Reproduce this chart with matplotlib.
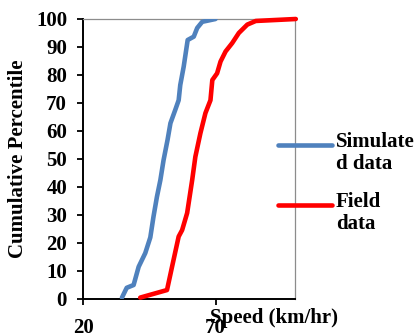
import matplotlib.pyplot as plt
from matplotlib.lines import Line2D

# simulated data (speed km/hr, cumulative percentile)
sim_speed = [34.7, 36.5, 39.1, 41.0, 43.5, 45.4, 46.6, 47.9, 49.2, 50.4, 51.9, 53.0,
             54.8, 56.1, 56.7, 58.0, 59.5, 61.8, 63.1, 65.0, 70.0]
sim_pct = [0.5, 4.0, 5.0, 11.5, 16.4, 22.0, 29.4, 36.5, 42.5, 49.6, 56.8, 62.8,
           67.5, 71.0, 76.4, 83.0, 92.5, 93.7, 96.8, 99.0, 100.0]

# field data
field_speed = [41.6, 51.7, 53.6, 56.1, 57.4, 59.3, 61.2, 62.4, 64.3, 66.2, 68.1, 68.8,
               70.6, 71.9, 73.8, 76.3, 78.8, 82.0, 85.2, 100.3]
field_pct = [0.5, 3.2, 11.5, 22.3, 24.6, 30.7, 42.5, 50.8, 59.2, 66.4, 71.0, 78.2,
             80.6, 84.8, 88.4, 91.4, 95.0, 98.0, 99.3, 100.0]

labels = ["Simulate\nd data", "Field\ndata"]
colors = ["#4F81BD", "#FF0000"]
xticks = [20, 70]
yticks = list(range(0, 101, 10))

plt.rcParams['font.family'] = ['Liberation Serif', 'DejaVu Serif']
plt.rcParams['font.weight'] = 'bold'

fig = plt.figure(figsize=(4.16, 3.34), dpi=100)
ax = fig.add_axes([83 / 416, 1 - 299 / 334, 212 / 416, 280 / 334])

ax.plot(sim_speed, sim_pct, color=colors[0], lw=3.3, solid_capstyle='round',
        solid_joinstyle='round', zorder=3)
ax.plot(field_speed, field_pct, color=colors[1], lw=3.3, solid_capstyle='round',
        solid_joinstyle='round', clip_on=False, zorder=3)

ax.set_xlim(20, 100)
ax.set_ylim(0, 100)
ax.set_xticks(xticks)
ax.set_yticks(yticks)
ax.tick_params(axis='both', direction='out', length=4.5, width=1.3, labelsize=15)
ax.tick_params(axis='y', pad=7)
ax.tick_params(axis='x', pad=9)
for lab in ax.get_xticklabels() + ax.get_yticklabels():
    lab.set_fontweight('bold')

for s in ['left', 'bottom']:
    ax.spines[s].set_color('black')
    ax.spines[s].set_linewidth(1.4)
for s in ['top', 'right']:
    ax.spines[s].set_color('#8c8c8c')
    ax.spines[s].set_linewidth(0.9)

ax.set_ylabel("Cumulative Percentile", fontsize=15, fontweight='bold')
ax.yaxis.set_label_coords((28 - 83) / 212, 0.5)
ax.set_xlabel("Speed (km/hr)", fontsize=15, fontweight='bold')
ax.xaxis.set_label_coords((274 - 83) / 212, (299 - 308) / 280)

# legend drawn beside the plot
leg_y = [145, 205]
for lab, col, yy in zip(labels, colors, leg_y):
    fy = 1 - yy / 334
    fig.add_artist(Line2D([278 / 416, 332 / 416], [fy, fy], color=col, lw=3.3,
                          solid_capstyle='round', transform=fig.transFigure))
    fig.text(336 / 416, 1 - (yy - 13) / 334, lab, fontsize=15, fontweight='bold',
             va='top', ha='left', linespacing=1.12)

fig.savefig("out.png", dpi=100)
